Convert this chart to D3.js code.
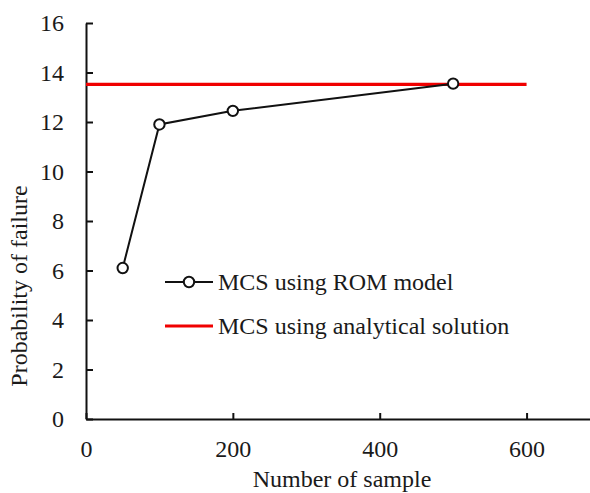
<!DOCTYPE html>
<html>
<head>
  <meta charset="utf-8">
  <script src="https://d3js.org/d3.v7.min.js"></script>
  <style>
    body { margin: 0; background: #fff; }
    text { font-family: "Liberation Serif", "Times New Roman", serif; fill: #1a1a1a; }
  </style>
</head>
<body>
<script>
// data
var samples = [50, 100, 200, 500];
var romPf = [6.1, 11.9, 12.45, 13.55];
var analyticalPf = 13.52;
var analyticalRange = [0, 600];
var xTicks = [0, 200, 400, 600];
var yTicks = [0, 2, 4, 6, 8, 10, 12, 14, 16];
var seriesNames = ["MCS using ROM model", "MCS using analytical solution"];

var svgWidth = 590, svgHeight = 493;
var fontSize = 24;

var svg = d3.select("body").append("svg")
    .attr("width", svgWidth)
    .attr("height", svgHeight);

var x = d3.scaleLinear().domain([0, 700]).range([86, 600]);
var y = d3.scaleLinear().domain([0, 16]).range([419, 23]);

// axes
var xAxis = svg.append("g")
    .attr("transform", "translate(0," + y(0) + ")")
    .call(d3.axisBottom(x).tickValues(xTicks).tickSizeInner(-6).tickSizeOuter(0).tickPadding(21));
var yAxis = svg.append("g")
    .attr("transform", "translate(" + x(0) + ",0)")
    .call(d3.axisLeft(y).tickValues(yTicks).tickSizeInner(-7).tickSizeOuter(0).tickPadding(22));

[xAxis, yAxis].forEach(function(g) {
  g.selectAll("path, line").attr("stroke", "#111").attr("stroke-width", 2);
  g.selectAll("text").style("font-size", fontSize + "px").attr("fill", "#1a1a1a")
    .style("font-family", "'Liberation Serif', 'Times New Roman', serif");
});

// axis titles
svg.append("text")
    .attr("x", 342).attr("y", 487)
    .attr("text-anchor", "middle")
    .style("font-size", fontSize + "px")
    .text("Number of sample");
svg.append("text")
    .attr("transform", "translate(27,286) rotate(-90)")
    .attr("text-anchor", "middle")
    .style("font-size", fontSize + "px")
    .text("Probability of failure");

// analytical solution
svg.append("line")
    .attr("x1", x(analyticalRange[0])).attr("x2", x(analyticalRange[1]))
    .attr("y1", y(analyticalPf)).attr("y2", y(analyticalPf))
    .attr("stroke", "#f00000").attr("stroke-width", 3.2);

// ROM series
var pts = samples.map(function(s, i) { return [s, romPf[i]]; });
var line = d3.line().x(function(d) { return x(d[0]); }).y(function(d) { return y(d[1]); });
svg.append("path")
    .attr("d", line(pts))
    .attr("fill", "none").attr("stroke", "#111").attr("stroke-width", 2);
svg.selectAll(".pt").data(pts).enter().append("circle")
    .attr("class", "pt")
    .attr("cx", function(d) { return x(d[0]); })
    .attr("cy", function(d) { return y(d[1]); })
    .attr("r", 5.2)
    .attr("fill", "#fff").attr("stroke", "#111").attr("stroke-width", 2);

// legend
var legend = svg.append("g");
var rowY = [282, 326];
legend.append("line")
    .attr("x1", 165).attr("x2", 213).attr("y1", rowY[0]).attr("y2", rowY[0])
    .attr("stroke", "#111").attr("stroke-width", 2);
legend.append("circle")
    .attr("cx", 189).attr("cy", rowY[0]).attr("r", 5.2)
    .attr("fill", "#fff").attr("stroke", "#111").attr("stroke-width", 2);
legend.append("line")
    .attr("x1", 165).attr("x2", 213).attr("y1", rowY[1]).attr("y2", rowY[1])
    .attr("stroke", "#f00000").attr("stroke-width", 3.2);
legend.selectAll(".lbl").data(seriesNames).enter().append("text")
    .attr("class", "lbl")
    .attr("x", 218)
    .attr("y", function(d, i) { return rowY[i] + 8; })
    .style("font-size", fontSize + "px")
    .text(function(d) { return d; });
</script>
</body>
</html>
